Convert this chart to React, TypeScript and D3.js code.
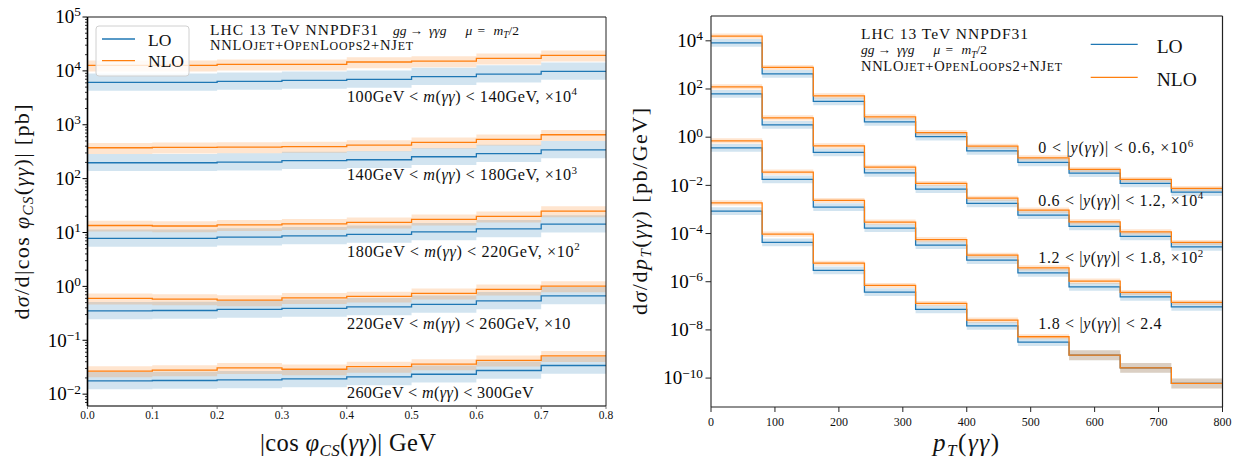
import React from 'react';
import * as d3 from 'd3';

// ---------- Left panel data: |cos phi_CS| bins ----------
const COS_EDGES = [0, 0.1, 0.2, 0.3, 0.4, 0.5, 0.6, 0.7, 0.8];
const COS_TICKS = [0, 0.1, 0.2, 0.3, 0.4, 0.5, 0.6, 0.7, 0.8];
const M1_LO = [6120, 6120, 6400, 6670, 6970, 7790, 8740, 9800];
const M1_NLO = [12700, 12700, 13200, 13200, 14600, 15200, 17100, 19400];
const M2_LO = [197, 197, 203, 215, 224, 255, 290, 343];
const M2_NLO = [374, 380, 386, 394, 420, 471, 536, 652];
const M3_LO = [7.77, 7.77, 8.22, 8.69, 9.22, 10.3, 11.7, 14.3];
const M3_NLO = [13.5, 13.2, 13.9, 14.5, 15.4, 17.5, 19.9, 24.9];
const M4_LO = [0.352, 0.357, 0.373, 0.39, 0.417, 0.462, 0.54, 0.668];
const M4_NLO = [0.597, 0.58, 0.556, 0.612, 0.65, 0.74, 0.877, 1.01];
const M5_LO = [0.0176, 0.0179, 0.0184, 0.0192, 0.0209, 0.0234, 0.0275, 0.034];
const M5_NLO = [0.0267, 0.0279, 0.0308, 0.029, 0.0324, 0.036, 0.0422, 0.0513];
// scale-variation band factors (relative to central value)
const L_LO_UP = [1.46, 1.46, 1.46, 1.46, 1.46, 1.46, 1.46, 1.46];
const L_LO_DN = [0.7, 0.7, 0.7, 0.7, 0.7, 0.7, 0.7, 0.7];
const L_NLO_UP = [1.23, 1.23, 1.23, 1.23, 1.23, 1.23, 1.23, 1.23];
const L_NLO_DN = [0.77, 0.77, 0.77, 0.77, 0.77, 0.77, 0.77, 0.77];
const M_LABELS = [
  ['100', '140', '4'],
  ['140', '180', '3'],
  ['180', '220', '2'],
  ['220', '260', '1'],
  ['260', '300', '0'],
];
const L_YTICKS = [-2, -1, 0, 1, 2, 3, 4, 5];

// ---------- Right panel data: pT bins ----------
const PT_EDGES = [0, 80, 160, 240, 320, 400, 480, 560, 640, 720, 800];
const PT_TICKS = [0, 100, 200, 300, 400, 500, 600, 700, 800];
const Y1_LO = [8260, 427, 30.5, 4.35, 1.05, 0.272, 0.0896, 0.0322, 0.012, 0.00524];
const Y1_NLO = [15700, 785, 52, 7.0, 1.55, 0.425, 0.139, 0.0459, 0.0177, 0.00746];
const Y2_LO = [63, 3.26, 0.233, 0.0331, 0.00698, 0.00178, 5.82e-4, 1.98e-4, 7.6e-5, 2.81e-5];
const Y2_NLO = [123, 6.37, 0.438, 0.0571, 0.012, 0.00295, 9.38e-4, 3.06e-4, 1.18e-4, 4.28e-5];
const Y3_LO = [0.361, 0.0177, 1.25e-3, 1.68e-4, 3.3e-5, 7.9e-6, 2.34e-6, 6.1e-7, 2.36e-7, 9.1e-8];
const Y3_NLO = [0.706, 0.0355, 2.37e-3, 2.98e-4, 5.6e-5, 1.27e-5, 3.78e-6, 1.06e-6, 3.6e-7, 1.38e-7];
const Y4_LO = [8.5e-4, 4.3e-5, 2.94e-6, 3.7e-7, 7.1e-8, 1.48e-8, 3.1e-9, 8.97e-10, 2.67e-10, 6.0e-11];
const Y4_NLO = [1.88e-3, 9.5e-5, 5.9e-6, 7.0e-7, 1.26e-7, 2.55e-8, 5.2e-9, 8.97e-10, 2.67e-10, 6.0e-11];
const R_LO_UP = [1.45, 1.45, 1.45, 1.45, 1.45, 1.45, 1.45, 1.45, 1.45, 1.45];
const R_LO_DN = [0.69, 0.69, 0.69, 0.69, 0.69, 0.69, 0.69, 0.69, 0.69, 0.69];
const R_NLO_UP = [1.27, 1.27, 1.27, 1.27, 1.27, 1.27, 1.27, 1.27, 1.27, 1.27];
const R_NLO_DN = [0.78, 0.78, 0.78, 0.78, 0.78, 0.78, 0.78, 0.78, 0.78, 0.78];
const R4_UP = [1.45, 1.45, 1.45, 1.45, 1.45, 1.45, 1.45, 1.6, 1.6, 1.6];
const R4_DN = [0.69, 0.69, 0.69, 0.69, 0.69, 0.69, 0.69, 0.62, 0.62, 0.62];
const R4_NLO_UP = [1.27, 1.27, 1.27, 1.27, 1.27, 1.27, 1.27, 1.6, 1.6, 1.6];
const R4_NLO_DN = [0.78, 0.78, 0.78, 0.78, 0.78, 0.78, 0.78, 0.62, 0.62, 0.62];
const Y_LABELS = [
  ['0', '0.6', '6'],
  ['0.6', '1.2', '4'],
  ['1.2', '1.8', '2'],
  ['1.8', '2.4', ''],
];
const R_YTICKS = [-10, -8, -6, -4, -2, 0, 2, 4];

const BLUE = '#1f77b4';
const ORANGE = '#ff7f0e';
const FONT = '"Liberation Serif", "DejaVu Serif", serif';

type Series = { lo: number[]; nlo: number[]; loUp: number[]; loDn: number[]; nloUp: number[]; nloDn: number[] };

const LEFT_SERIES: Series[] = [
  { lo: M1_LO, nlo: M1_NLO, loUp: L_LO_UP, loDn: L_LO_DN, nloUp: L_NLO_UP, nloDn: L_NLO_DN },
  { lo: M2_LO, nlo: M2_NLO, loUp: L_LO_UP, loDn: L_LO_DN, nloUp: L_NLO_UP, nloDn: L_NLO_DN },
  { lo: M3_LO, nlo: M3_NLO, loUp: L_LO_UP, loDn: L_LO_DN, nloUp: L_NLO_UP, nloDn: L_NLO_DN },
  { lo: M4_LO, nlo: M4_NLO, loUp: L_LO_UP, loDn: L_LO_DN, nloUp: L_NLO_UP, nloDn: L_NLO_DN },
  { lo: M5_LO, nlo: M5_NLO, loUp: L_LO_UP, loDn: L_LO_DN, nloUp: L_NLO_UP, nloDn: L_NLO_DN },
];
const RIGHT_SERIES: Series[] = [
  { lo: Y1_LO, nlo: Y1_NLO, loUp: R_LO_UP, loDn: R_LO_DN, nloUp: R_NLO_UP, nloDn: R_NLO_DN },
  { lo: Y2_LO, nlo: Y2_NLO, loUp: R_LO_UP, loDn: R_LO_DN, nloUp: R_NLO_UP, nloDn: R_NLO_DN },
  { lo: Y3_LO, nlo: Y3_NLO, loUp: R_LO_UP, loDn: R_LO_DN, nloUp: R_NLO_UP, nloDn: R_NLO_DN },
  { lo: Y4_LO, nlo: Y4_NLO, loUp: R4_UP, loDn: R4_DN, nloUp: R4_NLO_UP, nloDn: R4_NLO_DN },
];

function stepPath(edges: number[], vals: number[], x: any, y: any) {
  const pts: [number, number][] = edges.map((e, i) => [x(e), y(vals[Math.min(i, vals.length - 1)])]);
  return d3.line().curve(d3.curveStepAfter)(pts) || '';
}
function bandPath(edges: number[], vals: number[], up: number[], dn: number[], x: any, y: any) {
  const pts = edges.map((e, i) => {
    const k = Math.min(i, vals.length - 1);
    return [x(e), y(vals[k] * dn[k]), y(vals[k] * up[k])] as [number, number, number];
  });
  return (
    d3
      .area<[number, number, number]>()
      .curve(d3.curveStepAfter)
      .x((d) => d[0])
      .y0((d) => d[1])
      .y1((d) => d[2])(pts) || ''
  );
}

function Pow10({ x, y, e, size }: { x: number; y: number; e: number; size: number }) {
  const s = e < 0 ? '\u2212' + Math.abs(e) : String(e);
  return (
    <text x={x} y={y} fontSize={size} textAnchor="end" fontFamily={FONT} fill="#000">
      10
      <tspan dy={-size * 0.36} fontSize={size * 0.7}>
        {s}
      </tspan>
    </text>
  );
}

function SmallCapsLine({ x, y, size, len }: { x: number; y: number; size: number; len: number }) {
  const sc = size * 0.82;
  return (
    <text x={x} y={y} fontSize={size} fontFamily={FONT} fill="#111" textLength={len} lengthAdjust="spacing">
      NNLO<tspan fontSize={sc}>JET</tspan>+O<tspan fontSize={sc}>PEN</tspan>L<tspan fontSize={sc}>OOPS</tspan>2+NJ
      <tspan fontSize={sc}>ET</tspan>
    </text>
  );
}

function ProcessLine({ x, y, size }: { x: number; y: number; size: number }) {
  return (
    <text x={x} y={y} fontSize={size} fontFamily={FONT} fill="#111">
      <tspan x={x} fontStyle="italic">gg</tspan>
      <tspan x={x + 16.5}>→</tspan>
      <tspan x={x + 36} fontStyle="italic">γγg</tspan>
      <tspan x={x + 72.5} fontStyle="italic">μ</tspan>
      <tspan x={x + 84.5}>=</tspan>
      <tspan x={x + 100.5} fontStyle="italic">m</tspan>
      <tspan fontStyle="italic" fontSize={size * 0.7} dy={size * 0.25}>
        T
      </tspan>
      <tspan dy={-size * 0.25}>/2</tspan>
    </text>
  );
}

export default function App() {
  // Left panel geometry
  const xL = d3.scaleLinear().domain([0, 0.8]).range([87.5, 606]);
  const yL = d3.scaleLog().domain([Math.pow(10, -2.22), 1e5]).range([406, 17]);
  // Right panel geometry
  const xR = d3.scaleLinear().domain([0, 800]).range([711, 1222.5]);
  const yR = d3.scaleLog().domain([Math.pow(10, -11.2), Math.pow(10, 5.03)]).range([407, 16]);

  const minorL: number[] = [];
  for (let e = -3; e <= 4; e++)
    for (let m = 2; m <= 9; m++) {
      const v = m * Math.pow(10, e);
      if (v >= yL.domain()[0] && v <= 1e5) minorL.push(v);
    }

  const drawSeries = (list: Series[], edges: number[], x: any, y: any, clip: string) => (
    <g clipPath={`url(#${clip})`}>
      {list.map((s, i) => (
        <g key={'b' + i}>
          <path d={bandPath(edges, s.lo, s.loUp, s.loDn, x, y)} fill={BLUE} fillOpacity={0.2} stroke="none" />
          <path d={bandPath(edges, s.nlo, s.nloUp, s.nloDn, x, y)} fill={ORANGE} fillOpacity={0.2} stroke="none" />
        </g>
      ))}
      {list.map((s, i) => (
        <g key={'l' + i}>
          <path d={stepPath(edges, s.lo, x, y)} fill="none" stroke={BLUE} strokeWidth={1.3} />
          <path d={stepPath(edges, s.nlo, x, y)} fill="none" stroke={ORANGE} strokeWidth={1.3} />
        </g>
      ))}
    </g>
  );

  const mLabelY = [101.7, 180, 256.7, 329, 398.3];
  const mLabelLen = [230, 230, 232.7, 223.3, 186.7];
  const yLabelY = [153.3, 205.7, 263.3, 329];
  const yLabelLen = [155, 165, 165, 123.3];

  return (
    <svg width={1247} height={462} style={{ display: 'block', position: 'absolute', left: 0, top: 0 }} fontFamily={FONT}>
      <defs>
        <clipPath id="clipL">
          <rect x={87.5} y={17} width={606 - 87.5} height={406 - 17} />
        </clipPath>
        <clipPath id="clipR">
          <rect x={711} y={16} width={1222.5 - 711} height={407 - 16} />
        </clipPath>
      </defs>
      <rect x={0} y={0} width={1247} height={462} fill="#fff" />

      {/* ================= LEFT PANEL ================= */}
      {drawSeries(LEFT_SERIES, COS_EDGES, xL, yL, 'clipL')}

      {/* legend */}
      <rect x={96} y={26} width={93} height={50} rx={3} fill="#fff" fillOpacity={0.8} stroke="#d0d0d0" strokeWidth={1} />
      <line x1={102} x2={135} y1={39} y2={39} stroke={BLUE} strokeWidth={1.3} />
      <line x1={102} x2={135} y1={60.7} y2={60.7} stroke={ORANGE} strokeWidth={1.3} />
      <text x={148} y={45.5} fontSize={17.5} fill="#111">LO</text>
      <text x={148} y={67} fontSize={17.5} fill="#111">NLO</text>

      <text x={210} y={34.7} fontSize={15.5} fill="#111" textLength={168} lengthAdjust="spacing">
        LHC 13 TeV NNPDF31
      </text>
      <ProcessLine x={393} y={34.7} size={13.5} />
      <SmallCapsLine x={210} y={50} size={14.5} len={203} />

      {M_LABELS.map((l, i) => (
        <text key={i} x={347} y={mLabelY[i]} fontSize={16.2} fill="#111" textLength={mLabelLen[i]} lengthAdjust="spacing">
          {l[0]}GeV &lt; <tspan fontStyle="italic">m</tspan>(<tspan fontStyle="italic">γγ</tspan>) &lt; {l[1]}GeV
          {l[2] !== '0' && <tspan>, ×10</tspan>}
          {l[2] !== '0' && l[2] !== '1' && (
            <tspan dy={-6.5} fontSize={11}>
              {l[2]}
            </tspan>
          )}
        </text>
      ))}

      {/* axes frame */}
      <line x1={87.5} x2={606} y1={17} y2={17} stroke="#666" strokeWidth={1.4} />
      <line x1={87.5} x2={606} y1={406} y2={406} stroke="#777" strokeWidth={1.8} />
      <line x1={606} x2={606} y1={17} y2={406} stroke="#222" strokeWidth={1} />
      <line x1={87.5} x2={87.5} y1={17} y2={406} stroke="#000" strokeWidth={1.6} />
      {L_YTICKS.map((e) => (
        <g key={e}>
          <line x1={82.5} x2={87.5} y1={yL(Math.pow(10, e))} y2={yL(Math.pow(10, e))} stroke="#000" strokeWidth={1} />
          <Pow10 x={81} y={yL(Math.pow(10, e)) + 6.3} e={e} size={19} />
        </g>
      ))}
      {minorL.map((v, i) => (
        <line key={i} x1={85} x2={87.5} y1={yL(v)} y2={yL(v)} stroke="#000" strokeWidth={0.8} />
      ))}
      {COS_TICKS.map((t) => (
        <g key={t}>
          <line x1={xL(t)} x2={xL(t)} y1={406} y2={409} stroke="#555" strokeWidth={0.8} />
          <text x={xL(t)} y={418.5} fontSize={11.5} textAnchor="middle" fill="#111">
            {t.toFixed(1)}
          </text>
        </g>
      ))}
      <text x={348} y={451} fontSize={24.5} textAnchor="middle" fill="#111" textLength={176} lengthAdjust="spacing">
        |cos <tspan fontStyle="italic">φ</tspan>
        <tspan fontStyle="italic" fontSize={17} dy={4.5}>
          CS
        </tspan>
        <tspan dy={-4.5}>(</tspan>
        <tspan fontStyle="italic">γγ</tspan>)| GeV
      </text>
      <text transform="translate(29,212) rotate(-90)" fontSize={22} textAnchor="middle" fill="#111" textLength={215} lengthAdjust="spacing">
        d<tspan fontStyle="italic">σ</tspan>/d|cos <tspan fontStyle="italic">φ</tspan>
        <tspan fontStyle="italic" fontSize={15} dy={4}>
          CS
        </tspan>
        <tspan dy={-4}>(</tspan>
        <tspan fontStyle="italic">γγ</tspan>)| [pb]
      </text>

      {/* ================= RIGHT PANEL ================= */}
      {drawSeries(RIGHT_SERIES, PT_EDGES, xR, yR, 'clipR')}

      <text x={861} y={39} fontSize={15.5} fill="#111" textLength={167} lengthAdjust="spacing">
        LHC 13 TeV NNPDF31
      </text>
      <ProcessLine x={861} y={54.3} size={13.5} />
      <SmallCapsLine x={861} y={71} size={14.5} len={201} />

      <line x1={1090.7} x2={1137.7} y1={44.3} y2={44.3} stroke={BLUE} strokeWidth={1.3} />
      <line x1={1090.7} x2={1137.7} y1={77.3} y2={77.3} stroke={ORANGE} strokeWidth={1.3} />
      <text x={1156.7} y={53} fontSize={19.5} fill="#111">LO</text>
      <text x={1156.7} y={86} fontSize={19.5} fill="#111">NLO</text>

      {Y_LABELS.map((l, i) => (
        <text key={i} x={1038.3} y={yLabelY[i]} fontSize={16} fill="#111" textLength={yLabelLen[i]} lengthAdjust="spacing">
          {l[0]} &lt; |<tspan fontStyle="italic">y</tspan>(<tspan fontStyle="italic">γγ</tspan>)| &lt; {l[1]}
          {l[2] !== '' && <tspan>, ×10</tspan>}
          {l[2] !== '' && (
            <tspan dy={-6.5} fontSize={11}>
              {l[2]}
            </tspan>
          )}
        </text>
      ))}

      <line x1={711} x2={1222.5} y1={16} y2={16} stroke="#666" strokeWidth={1.4} />
      <line x1={711} x2={1222.5} y1={407} y2={407} stroke="#222" strokeWidth={1.2} />
      <line x1={1222.5} x2={1222.5} y1={16} y2={407} stroke="#222" strokeWidth={1.2} />
      <line x1={711} x2={711} y1={16} y2={407} stroke="#333" strokeWidth={1.2} />
      {R_YTICKS.map((e) => (
        <g key={e}>
          <line x1={705.5} x2={711} y1={yR(Math.pow(10, e))} y2={yR(Math.pow(10, e))} stroke="#222" strokeWidth={1} />
          <Pow10 x={703} y={yR(Math.pow(10, e)) + 6.3} e={e} size={19} />
        </g>
      ))}
      {PT_TICKS.map((t) => (
        <g key={t}>
          <line x1={xR(t)} x2={xR(t)} y1={407} y2={412} stroke="#222" strokeWidth={1} />
          <text x={xR(t)} y={426} fontSize={12} textAnchor="middle" fill="#111">
            {t}
          </text>
        </g>
      ))}
      <text x={966} y={451} fontSize={25} textAnchor="middle" fill="#111" textLength={66} lengthAdjust="spacing">
        <tspan fontStyle="italic">p</tspan>
        <tspan fontStyle="italic" fontSize={17} dy={4.5}>
          T
        </tspan>
        <tspan dy={-4.5}>(</tspan>
        <tspan fontStyle="italic">γγ</tspan>)
      </text>
      <text transform="translate(647,211.5) rotate(-90)" fontSize={22} textAnchor="middle" fill="#111" textLength={207} lengthAdjust="spacing">
        d<tspan fontStyle="italic">σ</tspan>/d<tspan fontStyle="italic">p</tspan>
        <tspan fontStyle="italic" fontSize={15} dy={4}>
          T
        </tspan>
        <tspan dy={-4}>(</tspan>
        <tspan fontStyle="italic">γγ</tspan>) [pb/GeV]
      </text>
    </svg>
  );
}
